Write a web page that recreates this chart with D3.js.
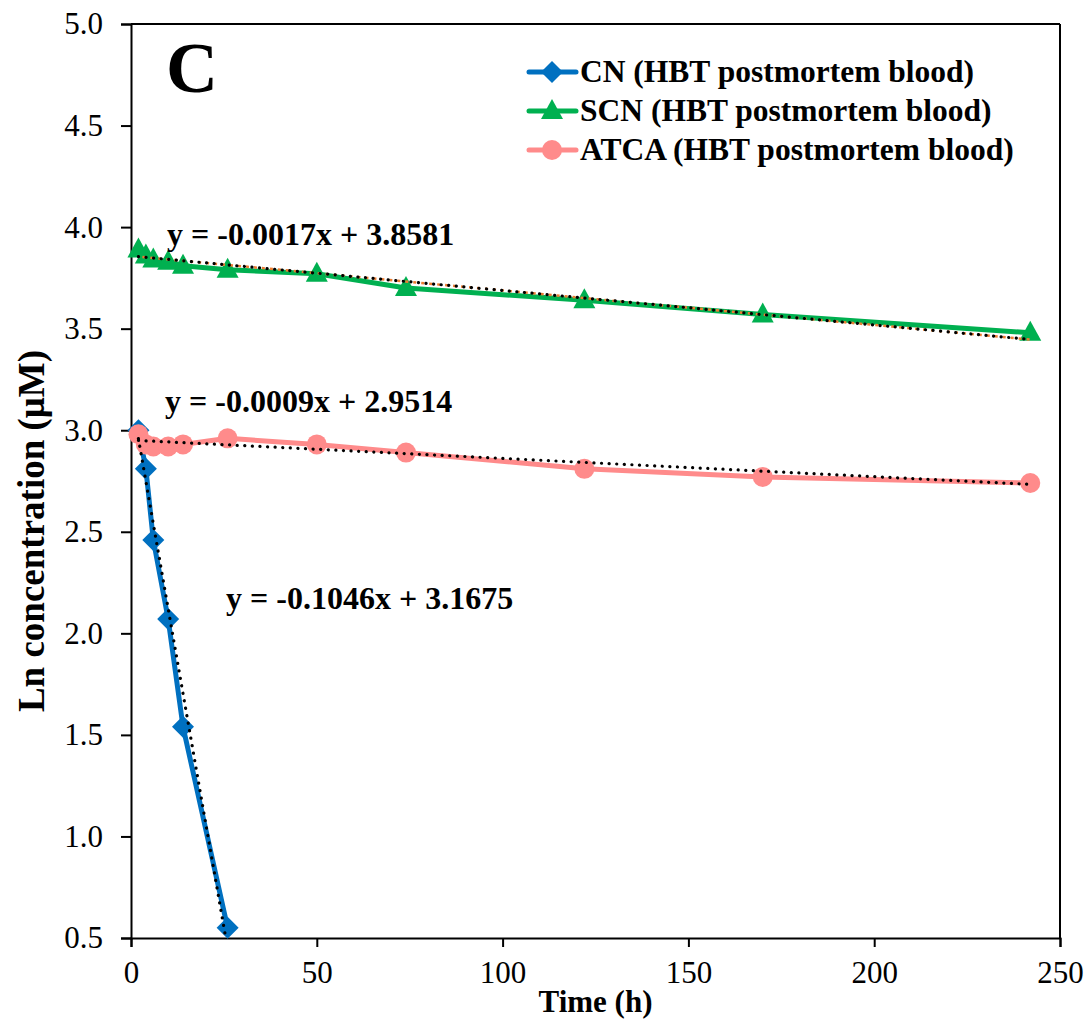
<!DOCTYPE html>
<html>
<head>
<meta charset="utf-8">
<script src="https://cdn.jsdelivr.net/npm/d3@7"></script>
<style>
  body { margin: 0; background: #fff; }
  svg text { font-family: "Liberation Serif", "Times New Roman", serif; }
</style>
</head>
<body>
<div id="vis"></div>
<script>
// data
var cnTime = [2, 4, 6, 10, 14, 26];
var cnLn = [3.00, 2.81, 2.46, 2.07, 1.54, 0.55];

var scnTime = [2, 4, 6, 10, 14, 26, 50, 74, 122, 170, 242];
var scnLn = [3.89, 3.86, 3.84, 3.83, 3.81, 3.79, 3.77, 3.70, 3.64, 3.57, 3.48];

var atcaTime = [2, 4, 6, 10, 14, 26, 50, 74, 122, 170, 242];
var atcaLn = [2.98, 2.93, 2.92, 2.92, 2.93, 2.96, 2.93, 2.89, 2.81, 2.77, 2.74];

var seriesNames = ["CN (HBT postmortem blood)", "SCN (HBT postmortem blood)", "ATCA (HBT postmortem blood)"];
var seriesColors = ["#0070C0", "#00B050", "#FF8B8B"];

// trendline coefficients from the printed equations
var fitSlopes = [-0.1046, -0.0017, -0.0009];
var fitIntercepts = [3.1675, 3.8581, 2.9514];
var fitLabels = ["y = -0.1046x + 3.1675", "y = -0.0017x + 3.8581", "y = -0.0009x + 2.9514"];

var xTicks = [0, 50, 100, 150, 200, 250];
var yTicks = [0.5, 1.0, 1.5, 2.0, 2.5, 3.0, 3.5, 4.0, 4.5, 5.0];

var W = 1086, H = 1022;
var margin = {top: 24, left: 131, right: 26, bottom: 84};
var width = W - margin.left - margin.right;
var height = H - margin.top - margin.bottom;

var SVG = d3.select("#vis").append("svg")
    .attr("width", W)
    .attr("height", H);

var svg = SVG.append("g")
    .attr("transform", "translate(" + margin.left + "," + margin.top + ")");

var x = d3.scaleLinear().domain([0, 250]).range([0, width]);
var y = d3.scaleLinear().domain([0.5, 5.0]).range([height, 0]);

svg.append("defs").append("clipPath").attr("id", "plotclip")
  .append("rect").attr("x", 0).attr("y", 0).attr("width", width).attr("height", height);

// frame top + right
svg.append("line").attr("x1", 0).attr("x2", width).attr("y1", 0).attr("y2", 0)
    .attr("stroke", "#000").attr("stroke-width", 2);
svg.append("line").attr("x1", width).attr("x2", width).attr("y1", 0).attr("y2", height)
    .attr("stroke", "#000").attr("stroke-width", 2);

var xAxis = svg.append("g")
    .attr("transform", "translate(0," + height + ")")
    .call(d3.axisBottom(x).tickValues(xTicks).tickSize(9).tickPadding(14).tickFormat(d3.format("d")));

var yAxis = svg.append("g")
    .call(d3.axisLeft(y).tickValues(yTicks).tickSize(10).tickPadding(18).tickFormat(d3.format(".1f")));

[xAxis, yAxis].forEach(function(a){
    a.select(".domain").attr("stroke", "#000").attr("stroke-width", 2);
    a.selectAll(".tick line").attr("stroke", "#000").attr("stroke-width", 2);
    a.selectAll(".tick text")
        .attr("fill", "#000")
        .style("font-family", "'Liberation Serif', serif")
        .style("font-size", "31px");
});

// axis titles
SVG.append("text")
    .attr("x", margin.left + width/2)
    .attr("y", 1012)
    .attr("text-anchor", "middle")
    .style("font-size", "31px")
    .style("font-weight", "bold")
    .text("Time (h)");

SVG.append("text")
    .attr("transform", "translate(44,531) rotate(-90)")
    .attr("text-anchor", "middle")
    .style("font-size", "37px")
    .style("font-weight", "bold")
    .text("Ln concentration (μM)");

// panel letter
svg.append("text")
    .attr("x", 35)
    .attr("y", 68)
    .style("font-size", "72px")
    .style("font-weight", "bold")
    .text("C");

var line = d3.line()
    .x(function(d){ return x(d[0]); })
    .y(function(d){ return y(d[1]); });

var allSeries = [
    {t: cnTime, v: cnLn, shape: "diamond"},
    {t: scnTime, v: scnLn, shape: "triangle"},
    {t: atcaTime, v: atcaLn, shape: "circle"}
];

function marker(g, shape, color, cx, cy){
    if(shape === "diamond"){
        g.append("path")
            .attr("d", "M" + cx + "," + (cy - 11) + "L" + (cx + 11) + "," + cy + "L" + cx + "," + (cy + 11) + "L" + (cx - 11) + "," + cy + "Z")
            .attr("fill", color);
    } else if(shape === "triangle"){
        g.append("path")
            .attr("d", "M" + cx + "," + (cy - 12) + "L" + (cx + 11) + "," + (cy + 8) + "L" + (cx - 11) + "," + (cy + 8) + "Z")
            .attr("fill", color);
    } else {
        g.append("circle").attr("cx", cx).attr("cy", cy).attr("r", 10).attr("fill", color);
    }
}

var dataG = svg.append("g");
allSeries.forEach(function(s, i){
    var pts = s.t.map(function(t, j){ return [t, s.v[j]]; });
    var g = dataG.append("g");
    g.append("path")
        .datum(pts)
        .attr("d", line)
        .attr("fill", "none")
        .attr("stroke", seriesColors[i])
        .attr("stroke-width", 5)
        .attr("stroke-linejoin", "round");
    pts.forEach(function(p){
        marker(g, s.shape, seriesColors[i], x(p[0]), y(p[1]));
    });
});

// trendlines
var trendG = svg.append("g").attr("clip-path", "url(#plotclip)");
allSeries.forEach(function(s, i){
    var t0 = s.t[0], t1 = s.t[s.t.length - 1];
    var pts = [[t0, fitSlopes[i]*t0 + fitIntercepts[i]], [t1, fitSlopes[i]*t1 + fitIntercepts[i]]];
    if(i === 1){
        trendG.append("path").datum(pts).attr("d", line)
            .attr("fill", "none")
            .attr("stroke", "#ED7D31")
            .attr("stroke-width", 2.5)
            .attr("stroke-dasharray", "3 5")
            .attr("stroke-dashoffset", 4);
    }
    trendG.append("path").datum(pts).attr("d", line)
        .attr("fill", "none")
        .attr("stroke", "#000")
        .attr("stroke-width", 3.2)
        .attr("stroke-linecap", "round")
        .attr("stroke-dasharray", "0.1 7.5");
});

// equation labels
var eqPos = [[226 - margin.left, 609 - margin.top], [167 - margin.left, 245 - margin.top], [165 - margin.left, 412 - margin.top]];
fitLabels.forEach(function(l, i){
    svg.append("text")
        .attr("x", eqPos[i][0])
        .attr("y", eqPos[i][1])
        .style("font-size", "32px")
        .style("font-weight", "bold")
        .text(l);
});

// legend
var legend = SVG.append("g").attr("transform", "translate(529,0)");
var legendY = [72, 111, 150];
seriesNames.forEach(function(n, i){
    var row = legend.append("g");
    row.append("line")
        .attr("x1", 0).attr("x2", 47)
        .attr("y1", legendY[i]).attr("y2", legendY[i])
        .attr("stroke", seriesColors[i])
        .attr("stroke-width", 5)
        .attr("stroke-linecap", "round");
    marker(row, allSeries[i].shape, seriesColors[i], 23, legendY[i]);
    row.append("text")
        .attr("x", 51)
        .attr("y", legendY[i] + 10)
        .style("font-size", "31.5px")
        .style("font-weight", "bold")
        .text(n);
});
</script>
</body>
</html>
